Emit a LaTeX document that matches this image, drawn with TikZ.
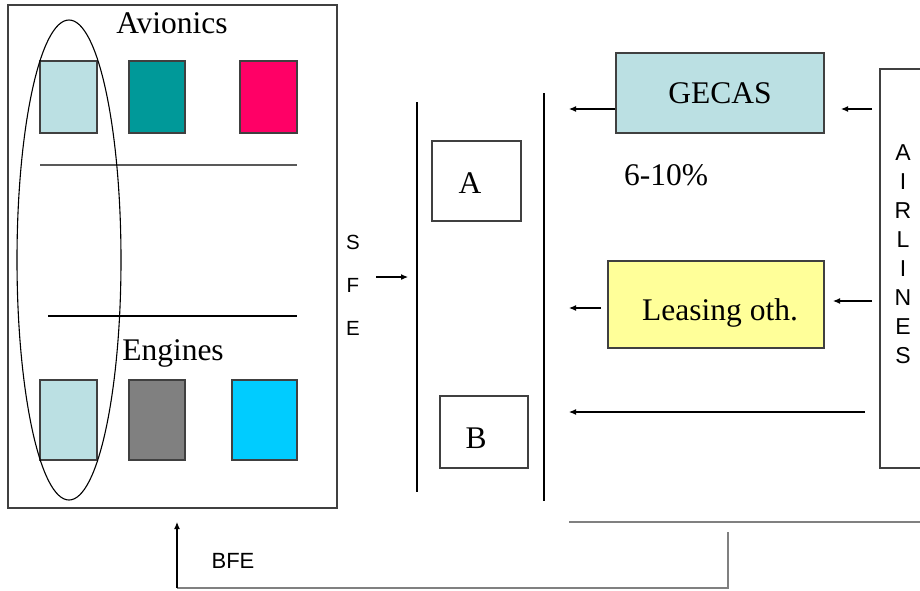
\documentclass[tikz,border=0pt]{standalone}
\usepackage{fontspec}
\setmainfont{Liberation Serif}
\setsansfont{Liberation Sans}
\usetikzlibrary{arrows.meta,shapes.geometric}
\definecolor{lblue}{HTML}{BBE0E3}
\definecolor{tealc}{HTML}{009999}
\definecolor{pinkc}{HTML}{FF0066}
\definecolor{grayc}{HTML}{808080}
\definecolor{cyanc}{HTML}{00CCFF}
\definecolor{yellowc}{HTML}{FFFF99}
\definecolor{edge}{HTML}{404040}
\begin{document}
\begin{tikzpicture}[x=1pt,y=-1pt,
  box/.style={draw=edge, line width=1.1pt, rectangle, inner sep=0pt},
  serif/.style={font=\fontsize{31.5}{36}\selectfont},
  sansbig/.style={font=\sffamily\fontsize{23}{29}\selectfont, align=center, inner sep=0pt},
  sanssmall/.style={font=\sffamily\fontsize{20.5}{43}\selectfont, align=center, inner sep=0pt},
  ln/.style={line width=1.1pt},
  grayln/.style={draw=grayc, line width=1.5pt},
  arr/.style={-{Latex[length=7pt,width=6pt]}, line width=1.1pt}]
\useasboundingbox (0,0) rectangle (920,590);
\clip (0,0) rectangle (920,590);
% left panel
\node[box, minimum width=329pt, minimum height=503pt] (panel) at (172.5,256.5) {};
\node[box, fill=lblue, minimum width=57pt, minimum height=72pt] (av1) at (68.5,97) {};
\node[box, fill=tealc, minimum width=56pt, minimum height=72pt] (av2) at (157,97) {};
\node[box, fill=pinkc, minimum width=57pt, minimum height=72pt] (av3) at (268.5,97) {};
\node[box, fill=lblue, minimum width=57pt, minimum height=80pt] (en1) at (68.5,420) {};
\node[box, fill=grayc, minimum width=56pt, minimum height=80pt] (en2) at (157,420) {};
\node[box, fill=cyanc, minimum width=65pt, minimum height=80pt] (en3) at (264.5,420) {};
\draw[ln, draw=gray!70!black] (40,165) -- (297,165);
\draw[ln] (48,316) -- (297,316);
\node[serif, anchor=base, inner sep=0pt] (avi) at (172,33) {Avionics};
\node[serif, anchor=base, inner sep=0pt] (eng) at (173,360) {Engines};
\node[draw, ellipse, line width=1.1pt, minimum width=104pt, minimum height=480pt, inner sep=0pt] (oval) at (69,260) {};
% SFE
\node[sanssmall] (sfe) at (353,285) {S\\F\\E};
\coordinate (sfes) at (376,277);
\coordinate (sfee) at (408,277);
\draw[arr] (sfes) -- (sfee);
% vertical lines
\draw[ln] (417,102) -- (417,492);
\draw[ln] (544,93) -- (544,501);
% A and B boxes
\node[box, minimum width=89pt, minimum height=80pt] (boxa) at (476.5,181) {};
\node[serif, anchor=base, inner sep=0pt] (ta) at (470,193) {A};
\node[box, minimum width=88pt, minimum height=72pt] (boxb) at (484,432) {};
\node[serif, anchor=base, inner sep=0pt] (tb) at (476,448) {B};
% GECAS
\node[box, fill=lblue, minimum width=208pt, minimum height=80pt, serif] (gecas) at (720,93) {GECAS};
\node[serif, anchor=base, inner sep=0pt] (pct) at (666,185) {6-10\%};
% Leasing
\node[box, fill=yellowc, minimum width=216pt, minimum height=87pt] (leas) at (716,304.5) {};
\node[serif, anchor=base, inner sep=0pt] (tleas) at (720,320) {Leasing oth.};
% Airlines
\node[box, minimum width=60pt, minimum height=399pt] (air) at (910,268.5) {};
\node[sansbig] (tair) at (903,254) {A\\I\\R\\L\\I\\N\\E\\S};
% arrows
\coordinate (g1) at (569,109);
\draw[arr] (gecas.west |- g1) -- (g1);
\coordinate (g2s) at (872,109);
\coordinate (g2e) at (841,109);
\draw[arr] (g2s) -- (g2e);
\coordinate (l1s) at (601,308);
\coordinate (l1e) at (569,308);
\draw[arr] (l1s) -- (l1e);
\coordinate (l2s) at (872,301);
\coordinate (l2e) at (833,301);
\draw[arr] (l2s) -- (l2e);
\coordinate (d1s) at (865,412);
\coordinate (d1e) at (569,412);
\draw[arr] (d1s) -- (d1e);
% bottom
\coordinate (h1) at (569,522);
\coordinate (h2) at (925,522);
\draw[grayln] (h1) -- (h2);
\coordinate (b1) at (728,532);
\coordinate (b2) at (728,588);
\coordinate (b3) at (177,588);
\coordinate (b4) at (177,522);
\draw[grayln] (b1) -- (b2) -- (b3);
\draw[arr] (b3) -- (b4);
\node[font=\sffamily\fontsize{22}{26}\selectfont, anchor=base, inner sep=0pt] (bfe) at (233,568) {BFE};
\end{tikzpicture}
\end{document}
